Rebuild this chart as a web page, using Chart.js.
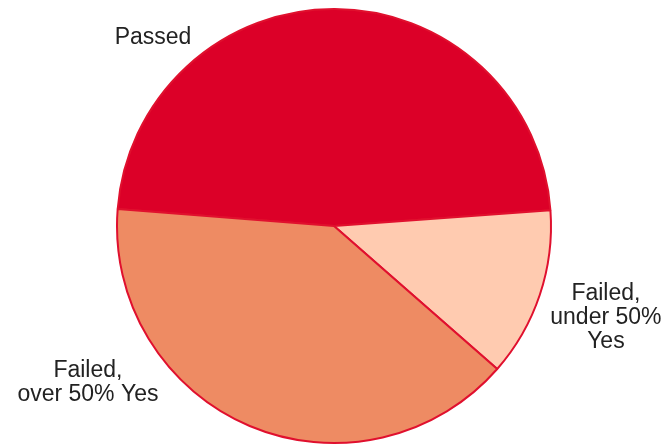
<!DOCTYPE html>
<html>
<head>
<meta charset="utf-8">
<script src="https://cdn.jsdelivr.net/npm/chart.js@4.4.1/dist/chart.umd.min.js"></script>
<style>
  html, body { margin: 0; padding: 0; background: #fff; }
  #wrap { width: 665px; height: 445px; }
</style>
</head>
<body>
<div id="wrap"><canvas id="canvas"></canvas></div>
<script>
const labels = [["Passed"], ["Failed,", "under 50%", "Yes"], ["Failed,", "over 50% Yes"]];
const values = [47.6, 12.6, 39.8];
const colors = ["#dc0028", "#ffcbb0", "#ee8b63"];

// where each label sits, as a fraction of the pie radius from its centre
const label_pos = [[-0.834, -0.866], [1.253, 0.422], [-1.134, 0.721]];

const pieLabels = {
  id: "pieLabels",
  afterDraw: (chart) => {
    const ctx = chart.ctx;
    const arc = chart.getDatasetMeta(0).data[0];
    const r = arc.outerRadius;
    ctx.save();
    ctx.font = "23px 'Liberation Sans', Arial, sans-serif";
    ctx.fillStyle = "#222";
    ctx.textAlign = "center";
    ctx.textBaseline = "middle";
    const lh = 24;
    labels.forEach((lines, i) => {
      const cx = arc.x + label_pos[i][0] * r;
      const cy = arc.y + label_pos[i][1] * r;
      const top = cy - (lines.length - 1) * lh / 2;
      lines.forEach((s, j) => ctx.fillText(s, cx, top + j * lh));
    });
    ctx.restore();
  }
};

const canvas = document.getElementById("canvas").getContext("2d");
const plot = new Chart(canvas, {
  type: "pie",
  data: {
    labels: labels.map(l => l.join(" ")),
    datasets: [{
      data: values,
      backgroundColor: colors,
      borderColor: "#e0102e",
      borderWidth: 2
    }]
  },
  options: {
    responsive: true,
    maintainAspectRatio: false,
    animation: false,
    rotation: -85.5,
    layout: { padding: { top: 8, bottom: 1, left: 3, right: 0 } },
    plugins: {
      legend: { display: false },
      tooltip: { enabled: false }
    }
  },
  plugins: [pieLabels]
});
</script>
</body>
</html>
